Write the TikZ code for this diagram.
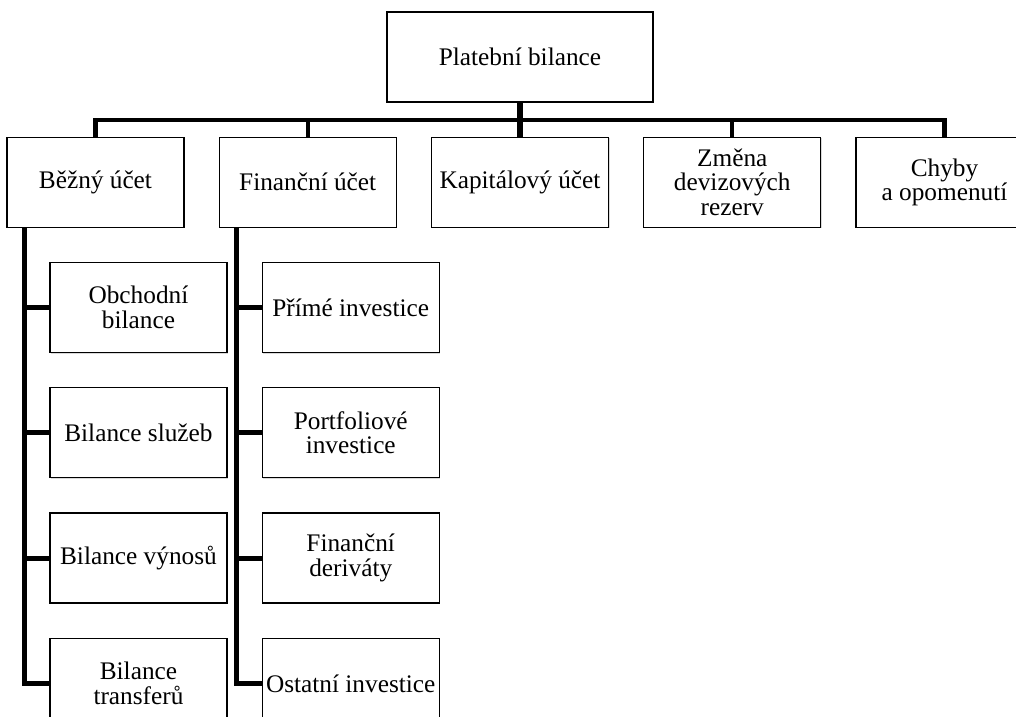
\documentclass[tikz,border=0pt]{standalone}
\usepackage{fontspec}
\setmainfont{Liberation Serif}
\usetikzlibrary{positioning,shadows}

\begin{document}
\begin{tikzpicture}[node distance=0.85cm,
  blok/.style={rectangle,draw,line width=0.9pt,fill=white,minimum width=4.425cm,minimum height=2.25cm,align=center,inner sep=1pt,font=\fontsize{18}{17.5}\selectfont,drop shadow={shadow xshift=0.8pt,shadow yshift=-0.8pt,opacity=0.3}},
  spoj/.style={line width=3pt},
  kmen/.style={line width=3.6pt}]
\useasboundingbox (-13,1.425) rectangle (12.4,-16.5);
\clip (-13,1.425) rectangle (12.4,-16.5);
\node (plat) [blok,minimum width=6.65cm] {Platební bilance};
\node (kap) [blok,below=of plat] {Kapitálový účet};
\node (fin) [blok,left=of kap] {Finanční účet};
\node (bez) [blok,left=of fin] {Běžný účet};
\node (zmena) [blok,right=of kap] {Změna\\devizových\\rezerv};
\node (chyby) [blok,right=of zmena] {Chyby\\a opomenutí};
% bezny ucet
\node (obch) [blok,below=of bez,xshift=1.075cm] {Obchodní\\bilance};
\node (sluz) [blok,below=of obch] {Bilance služeb};
\node (vyn) [blok,below=of sluz] {Bilance výnosů};
\node (trans) [blok,below=of vyn] {Bilance\\transferů};
% financni ucet
\node (prime) [blok,below=of fin,xshift=1.075cm] {Přímé investice};
\node (port) [blok,below=of prime] {Portfoliové\\investice};
\node (deriv) [blok,below=of port] {Finanční\\deriváty};
\node (ost) [blok,below=of deriv] {Ostatní investice};
\draw[spoj] (plat.south) -- ++(0,-0.425) -| (bez.north);
\draw[spoj] (plat.south) -- ++(0,-0.425) -| (fin.north);
\draw[spoj] (plat.south) -- ++(0,-0.425) -| (zmena.north);
\draw[spoj] (plat.south) -- ++(0,-0.425) -| (chyby.north);
\draw[spoj,line width=4.5pt] (plat) -- (kap);
\draw[kmen] ([xshift=0.45cm]bez.south west) |- (obch.west);
\draw[kmen] ([xshift=0.45cm]bez.south west) |- (sluz.west);
\draw[kmen] ([xshift=0.45cm]bez.south west) |- (vyn.west);
\draw[kmen] ([xshift=0.45cm]bez.south west) |- (trans.west);
\draw[kmen] ([xshift=0.45cm]fin.south west) |- (prime.west);
\draw[kmen] ([xshift=0.45cm]fin.south west) |- (port.west);
\draw[kmen] ([xshift=0.45cm]fin.south west) |- (deriv.west);
\draw[kmen] ([xshift=0.45cm]fin.south west) |- (ost.west);
\end{tikzpicture}
\end{document}
